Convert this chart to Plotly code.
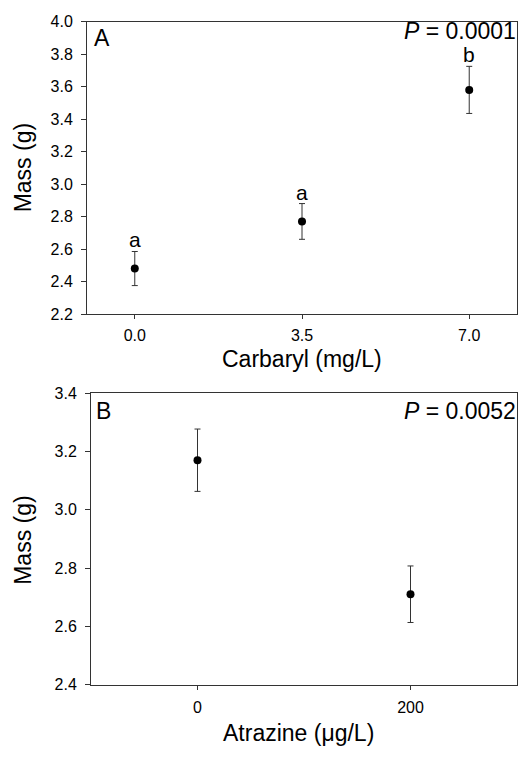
import plotly.graph_objects as go

# Panel A data
carbaryl = [0.0, 3.5, 7.0]
mass_a = [2.48, 2.77, 3.58]
err_a = [0.105, 0.11, 0.145]
letters_a = ["a", "a", "b"]
ticks_a_x = [0.0, 3.5, 7.0]
ticktext_a_x = ["0.0", "3.5", "7.0"]
ticks_a_y = [2.2, 2.4, 2.6, 2.8, 3.0, 3.2, 3.4, 3.6, 3.8, 4.0]

# Panel B data
atrazine = [0, 200]
mass_b = [3.17, 2.71]
err_b = [0.107, 0.097]
ticks_b_x = [0, 200]
ticks_b_y = [2.4, 2.6, 2.8, 3.0, 3.2, 3.4]

FONT = "Liberation Sans, Arial, sans-serif"
W, H = 521, 761


def px_x(p):
    return p / W


def px_y(p):
    return 1 - p / H


fig = go.Figure()

fig.add_trace(go.Scatter(
    x=carbaryl, y=mass_a, mode="markers",
    marker=dict(color="black", size=8),
    error_y=dict(type="data", array=err_a, color="#333333", thickness=1, width=3),
    xaxis="x", yaxis="y", showlegend=False, hoverinfo="skip"))

fig.add_trace(go.Scatter(
    x=atrazine, y=mass_b, mode="markers",
    marker=dict(color="black", size=8),
    error_y=dict(type="data", array=err_b, color="#333333", thickness=1, width=3),
    xaxis="x2", yaxis="y2", showlegend=False, hoverinfo="skip"))

axis_common = dict(showline=True, linecolor="#333333", linewidth=1, mirror=True,
                   showgrid=False, zeroline=False, ticks="outside",
                   tickcolor="#333333", tickfont=dict(family=FONT, size=16, color="black"))

fig.update_layout(
    width=W, height=H,
    margin=dict(l=0, r=0, t=0, b=0),
    paper_bgcolor="white", plot_bgcolor="white",
    xaxis=dict(domain=[px_x(87), px_x(517)], range=[-1, 8], tickvals=ticks_a_x, ticktext=ticktext_a_x,
               ticklen=4, ticklabelstandoff=3, anchor="y", **axis_common),
    yaxis=dict(domain=[px_y(313), px_y(14)], range=[2.2, 4.0], tickvals=ticks_a_y,
               tickformat=".1f", ticklen=5, ticklabelstandoff=5, anchor="x", **axis_common),
    xaxis2=dict(domain=[px_x(91), px_x(517)], range=[-100, 300], tickvals=ticks_b_x,
                ticklen=4, ticklabelstandoff=4, anchor="y2", **axis_common),
    yaxis2=dict(domain=[px_y(692), px_y(394)], range=[2.4, 3.4], tickvals=ticks_b_y,
                tickformat=".1f", ticklen=5, ticklabelstandoff=5, anchor="x2", **axis_common),
)

annotations = []
for xv, yv, ev, lt in zip(carbaryl, mass_a, err_a, letters_a):
    annotations.append(dict(x=xv, y=yv + ev, xref="x", yref="y", text=lt, showarrow=False,
                            yanchor="bottom", yshift=-2,
                            font=dict(family=FONT, size=21, color="black")))

title_font = dict(family=FONT, size=23, color="black")
label_font = dict(family=FONT, size=23, color="black")
annotations += [
    # axis titles
    dict(x=px_x(302), y=px_y(359), xref="paper", yref="paper", text="Carbaryl (mg/L)",
         showarrow=False, xanchor="center", yanchor="middle", font=title_font),
    dict(x=px_x(23), y=px_y(164), xref="paper", yref="paper", text="Mass (g)", textangle=-90,
         showarrow=False, xanchor="center", yanchor="middle", font=title_font),
    dict(x=px_x(298), y=px_y(742), xref="paper", yref="paper", text="Atrazine (μg/L)",
         showarrow=False, xanchor="center", yanchor="middle", font=title_font),
    dict(x=px_x(23), y=px_y(545), xref="paper", yref="paper", text="Mass (g)", textangle=-90,
         showarrow=False, xanchor="center", yanchor="middle", font=title_font),
    # panel labels and P values
    dict(x=px_x(92), y=px_y(31), xref="paper", yref="paper", text="A", showarrow=False,
         xanchor="left", yanchor="middle", font=label_font),
    dict(x=px_x(518), y=px_y(24), xref="paper", yref="paper", text="<i>P</i> = 0.0001", showarrow=False,
         xanchor="right", yanchor="middle", font=label_font),
    dict(x=px_x(94), y=px_y(412), xref="paper", yref="paper", text="B", showarrow=False,
         xanchor="left", yanchor="middle", font=label_font),
    dict(x=px_x(518), y=px_y(412), xref="paper", yref="paper", text="<i>P</i> = 0.0052", showarrow=False,
         xanchor="right", yanchor="middle", font=label_font),
]
fig.update_layout(annotations=annotations)

fig.write_html("out.html", config={"displayModeBar": False},
               post_script="document.body.style.margin='0px';")
